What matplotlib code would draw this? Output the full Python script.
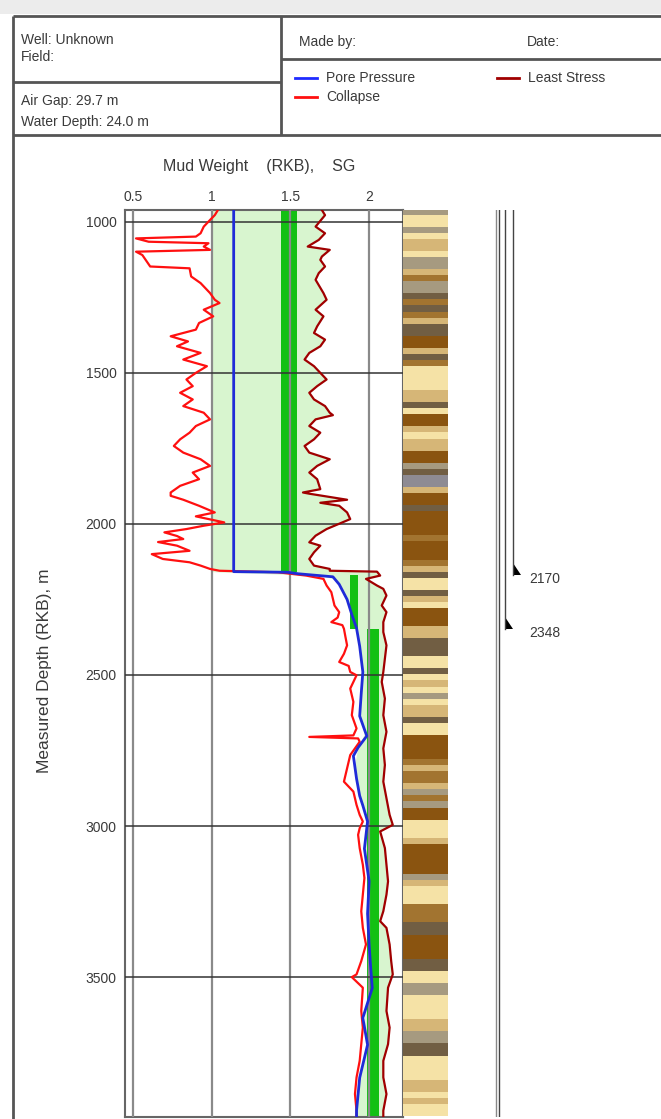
import numpy as np
import matplotlib.pyplot as plt
from matplotlib.colors import ListedColormap

plt.rcParams['font.family'] = ['Liberation Sans', 'DejaVu Sans']
txt = '#3a3a3a'

# ---------------- data ----------------
# pore pressure (SG)
pp_depth = [961, 2158, 2160, 2165, 2175, 2200, 2250, 2300, 2345, 2405, 2490, 2560, 2636, 2702,
            2740, 2768, 2843, 2900, 2932, 2985, 3075, 3183, 3290, 3394, 3470, 3536, 3635, 3724,
            3833, 3942, 3963]
pp_val = [1.14, 1.14, 1.48, 1.55, 1.77, 1.81, 1.86, 1.89, 1.92, 1.94, 1.96, 1.95, 1.94, 1.985,
          1.93, 1.90, 1.92, 1.94, 1.96, 1.99, 1.97, 2.00, 1.99, 2.00, 2.01, 2.02, 1.96, 1.99,
          1.94, 1.92, 1.92]

# collapse (SG)
col_depth = [961, 978, 994, 1016, 1038, 1049, 1055, 1066, 1071, 1082, 1093, 1099, 1110, 1148,
             1154, 1181, 1203, 1236, 1258, 1269, 1291, 1313, 1335, 1357, 1379, 1396, 1412, 1434,
             1456, 1478, 1500, 1522, 1544, 1566, 1588, 1610, 1632, 1654, 1676, 1698, 1720, 1742,
             1764, 1786, 1808, 1830, 1852, 1874, 1896, 1907, 1920, 1940, 1962, 1975, 1995, 2006,
             2017, 2028, 2040, 2050, 2060, 2072, 2089, 2100, 2116, 2127, 2138, 2149, 2155, 2160,
             2171, 2182, 2204, 2226, 2248, 2270, 2292, 2310, 2325, 2335, 2347, 2375, 2402, 2430,
             2457, 2470, 2490, 2501, 2545, 2589, 2633, 2677, 2700, 2705, 2710, 2721, 2765, 2809,
             2853, 2886, 2930, 2963, 2985, 3007, 3029, 3073, 3128, 3172, 3227, 3282, 3337, 3392,
             3447, 3491, 3500, 3535, 3612, 3667, 3722, 3777, 3832, 3887, 3942, 3963]
col_val = [1.04, 1.02, 0.99, 0.95, 0.93, 0.90, 0.52, 0.60, 0.98, 0.95, 0.99, 0.52, 0.56, 0.61,
           0.86, 0.87, 0.93, 0.99, 1.02, 1.05, 0.95, 1.01, 0.92, 0.90, 0.74, 0.85, 0.78, 0.93,
           0.82, 0.97, 0.90, 0.84, 0.88, 0.80, 0.88, 0.82, 0.95, 0.99, 0.90, 0.86, 0.80, 0.76,
           0.82, 0.93, 0.99, 0.88, 0.92, 0.80, 0.74, 0.74, 0.82, 0.92, 1.02, 0.90, 1.08, 0.95,
           0.84, 0.70, 0.78, 0.82, 0.66, 0.78, 0.86, 0.62, 0.69, 0.86, 0.93, 0.99, 1.05, 1.42,
           1.60, 1.71, 1.73, 1.76, 1.77, 1.78, 1.81, 1.80, 1.76, 1.83, 1.84, 1.85, 1.86, 1.84,
           1.81, 1.87, 1.88, 1.92, 1.88, 1.90, 1.89, 1.92, 1.90, 1.62, 1.93, 1.94, 1.88, 1.86,
           1.84, 1.90, 1.92, 1.94, 1.96, 1.94, 1.93, 1.94, 1.96, 1.97, 1.96, 1.95, 1.96, 1.98,
           1.95, 1.92, 1.89, 1.96, 1.95, 1.96, 1.95, 1.94, 1.92, 1.91, 1.92, 1.92]

# least stress (SG)
ls_depth = [961, 978, 1016, 1038, 1060, 1082, 1093, 1115, 1126, 1148, 1170, 1192, 1236, 1258,
            1291, 1313, 1346, 1368, 1390, 1412, 1434, 1456, 1478, 1500, 1522, 1544, 1566, 1588,
            1610, 1632, 1640, 1654, 1676, 1698, 1720, 1742, 1764, 1786, 1808, 1830, 1852, 1885,
            1896, 1900, 1920, 1930, 1940, 1962, 1984, 1995, 2017, 2039, 2061, 2072, 2094, 2116,
            2138, 2149, 2155, 2158, 2171, 2182, 2204, 2215, 2237, 2270, 2292, 2325, 2358, 2402,
            2446, 2490, 2523, 2578, 2633, 2688, 2743, 2798, 2853, 2908, 2963, 2996, 3018, 3073,
            3128, 3183, 3227, 3282, 3315, 3337, 3392, 3447, 3491, 3535, 3612, 3667, 3722, 3777,
            3832, 3887, 3942, 3963]
ls_val = [1.70, 1.72, 1.66, 1.72, 1.68, 1.61, 1.75, 1.70, 1.69, 1.72, 1.68, 1.66, 1.71, 1.73,
          1.66, 1.71, 1.67, 1.65, 1.72, 1.69, 1.62, 1.59, 1.65, 1.69, 1.73, 1.67, 1.62, 1.65,
          1.72, 1.75, 1.77, 1.66, 1.62, 1.69, 1.65, 1.59, 1.62, 1.75, 1.67, 1.62, 1.67, 1.69,
          1.58, 1.62, 1.86, 1.69, 1.81, 1.86, 1.88, 1.83, 1.73, 1.66, 1.62, 1.69, 1.65, 1.62,
          1.65, 1.75, 1.75, 2.05, 2.07, 1.98, 2.05, 2.09, 2.11, 2.08, 2.11, 2.09, 2.09, 2.11,
          2.10, 2.09, 2.08, 2.10, 2.09, 2.11, 2.09, 2.10, 2.09, 2.11, 2.13, 2.15, 2.07, 2.10,
          2.11, 2.12, 2.11, 2.09, 2.07, 2.11, 2.13, 2.14, 2.15, 2.12, 2.11, 2.13, 2.12, 2.09,
          2.09, 2.11, 2.09, 2.09]

# recommended mud weight bars: (top, base, low, high)
mw_top = [961, 2170, 2348]
mw_base = [2160, 2348, 3963]
mw_low = [1.44, 1.88, 1.985]
mw_high = [1.54, 1.93, 2.06]
window_min = 1.0  # lower edge of the window above the pressure ramp
ramp_depth = 2160

# lithology, one code per 20 m starting at 960 m
lith_top = 960
lith_step = 20
lith = [2, 0, 0, 2, 0, 1, 1, 0, 2, 2, 1, 4, 2, 2, 5, 4, 5, 4, 1, 5,
        5, 3, 3, 1, 5, 4, 0, 0, 0, 0, 1, 1, 5, 0, 3, 3, 1, 0, 1, 1,
        3, 3, 2, 5, 6, 6, 1, 3, 3, 5, 3, 3, 3, 3, 4, 3, 3, 3, 4, 1,
        5, 0, 0, 5, 1, 0, 3, 3, 3, 1, 1, 5, 5, 5, 0, 0, 5, 0, 1, 0,
        2, 0, 1, 1, 5, 0, 0, 3, 3, 3, 3, 4, 1, 4, 4, 1, 2, 4, 2, 3,
        3, 0, 0, 0, 1, 3, 3, 3, 3, 3, 2, 1, 0, 0, 0, 4, 4, 4, 5, 5,
        3, 3, 3, 3, 5, 5, 0, 0, 2, 2, 0, 0, 0, 0, 1, 1, 2, 2, 5, 5,
        0, 0, 0, 0, 1, 1, 0, 1, 0, 0]
lith_colors = ['#f5e2a6', '#d6b677', '#a69a80', '#8a5410', '#a27430', '#715e43', '#8e8b93']

# casing shoes
shoe_depth = [2170, 2348]
shoe_label = ['2170', '2348']

x_ticks = [0.5, 1, 1.5, 2]
y_ticks = [1000, 1500, 2000, 2500, 3000, 3500]
ylim = (3963, 961)
xlim = (0.45, 2.215)

# ---------------- figure ----------------
W, H = 661, 1119
fig = plt.figure(figsize=(W / 100, H / 100), dpi=100)


def box(x0, y0, x1, y1):
    return [x0 / W, 1 - y1 / H, (x1 - x0) / W, (y1 - y0) / H]


# overlay for header & frame (pixel coords)
ov = fig.add_axes([0, 0, 1, 1])
ov.set_xlim(0, W)
ov.set_ylim(H, 0)
ov.axis('off')
ov.add_patch(plt.Rectangle((0, 0), W, 14, color='#ececec', lw=0))
fc = '#555555'
for (xa, ya, xb, yb) in [(13, 16, W, 16), (13, 16, 13, H), (13, 135, W, 135),
                         (281, 16, 281, 135), (13, 82, 281, 82), (281, 59, W, 59)]:
    ov.plot([xa, xb], [ya, yb], color=fc, lw=2, solid_capstyle='butt')
hs = 10
ov.text(21, 40, 'Well: Unknown', fontsize=hs, color=txt, va='center')
ov.text(21, 57, 'Field:', fontsize=hs, color=txt, va='center')
ov.text(21, 101, 'Air Gap: 29.7 m', fontsize=hs, color=txt, va='center')
ov.text(21, 122, 'Water Depth: 24.0 m', fontsize=hs, color=txt, va='center')
ov.text(299, 42, 'Made by:', fontsize=hs, color=txt, va='center')
ov.text(527, 42, 'Date:', fontsize=hs, color=txt, va='center')
legend_items = [('Pore Pressure', '#1f2bff', 295, 78), ('Collapse', '#ff1010', 295, 97),
                ('Least Stress', '#a00000', 497, 78)]
for name, c, lx, ly in legend_items:
    ov.plot([lx, lx + 22], [ly, ly], color=c, lw=2)
    ov.text(lx + 31, ly, name, fontsize=hs, color=txt, va='center')
ov.text(259, 166, 'Mud Weight    (RKB),    SG', fontsize=11.5, color=txt, ha='center',
        va='center')
ov.text(45, 671, 'Measured Depth (RKB), m', fontsize=12.5, color=txt, ha='center', va='center',
        rotation=90)

# main track
ax = fig.add_axes(box(125, 210, 403, 1117))
ax.set_xlim(*xlim)
ax.set_ylim(*ylim)

pp_d = np.array(pp_depth)
ls_d = np.array(ls_depth)
ls_v = np.array(ls_val)
lower = np.where(ls_d <= ramp_depth, window_min, np.interp(ls_d, pp_d, pp_val))
ax.fill_betweenx(ls_d, lower, ls_v, where=ls_v > lower, color='#d8f5cf', lw=0, zorder=1)
for t, b, lo, hi in zip(mw_top, mw_base, mw_low, mw_high):
    ax.fill_betweenx([t, b], lo, hi, color='#13c013', lw=0, zorder=2)

for xv in x_ticks:
    ax.axvline(xv, color='#8a8a8a', lw=1.6, zorder=3)
for yv in y_ticks:
    ax.axhline(yv, color='#333333', lw=1.1, zorder=3)

ax.plot(ls_val, ls_depth, color='#a00000', lw=1.6, zorder=4)
ax.plot(col_val, col_depth, color='#ff1010', lw=1.6, zorder=5)
ax.plot(pp_val, pp_depth, color='#1f2bd8', lw=2, zorder=6)

ax.xaxis.tick_top()
ax.set_xticks(x_ticks)
ax.set_xticklabels(['0.5', '1', '1.5', '2'])
ax.set_yticks(y_ticks)
ax.tick_params(length=0, labelsize=hs, labelcolor=txt, pad=6)
ax.tick_params(axis='x', pad=4)
for s in ax.spines.values():
    s.set_color('#666666')
    s.set_linewidth(1.5)

# lithology column
lx_ = fig.add_axes(box(403, 210, 448, 1117))
n = len(lith)
lx_.imshow(np.array(lith)[:, None], cmap=ListedColormap(lith_colors), vmin=-0.5,
           vmax=len(lith_colors) - 0.5, aspect='auto', interpolation='nearest',
           extent=[0, 1, lith_top + lith_step * n, lith_top])
lx_.set_xlim(0, 1)
lx_.set_ylim(*ylim)
lx_.axis('off')

# casing track
cx = fig.add_axes(box(448, 210, 661, 1117))
cx.set_xlim(0, 213)
cx.set_ylim(*ylim)
cx.axis('off')
cx.plot([48, 48], [ylim[1], ylim[0]], color='#888888', lw=1)
cx.plot([51, 51], [ylim[1], ylim[0]], color='#444444', lw=1)
cas_x = [65, 57]
for d, lab, xc in zip(shoe_depth, shoe_label, cas_x):
    cx.plot([xc, xc], [ylim[1], d], color='#444444', lw=1)
    cx.fill([xc, xc, xc + 8], [d - 40, d, d], color='black', lw=0)
    cx.text(81, d + 12, lab, fontsize=hs, color=txt, va='center')

fig.savefig('out.png', dpi=100)
